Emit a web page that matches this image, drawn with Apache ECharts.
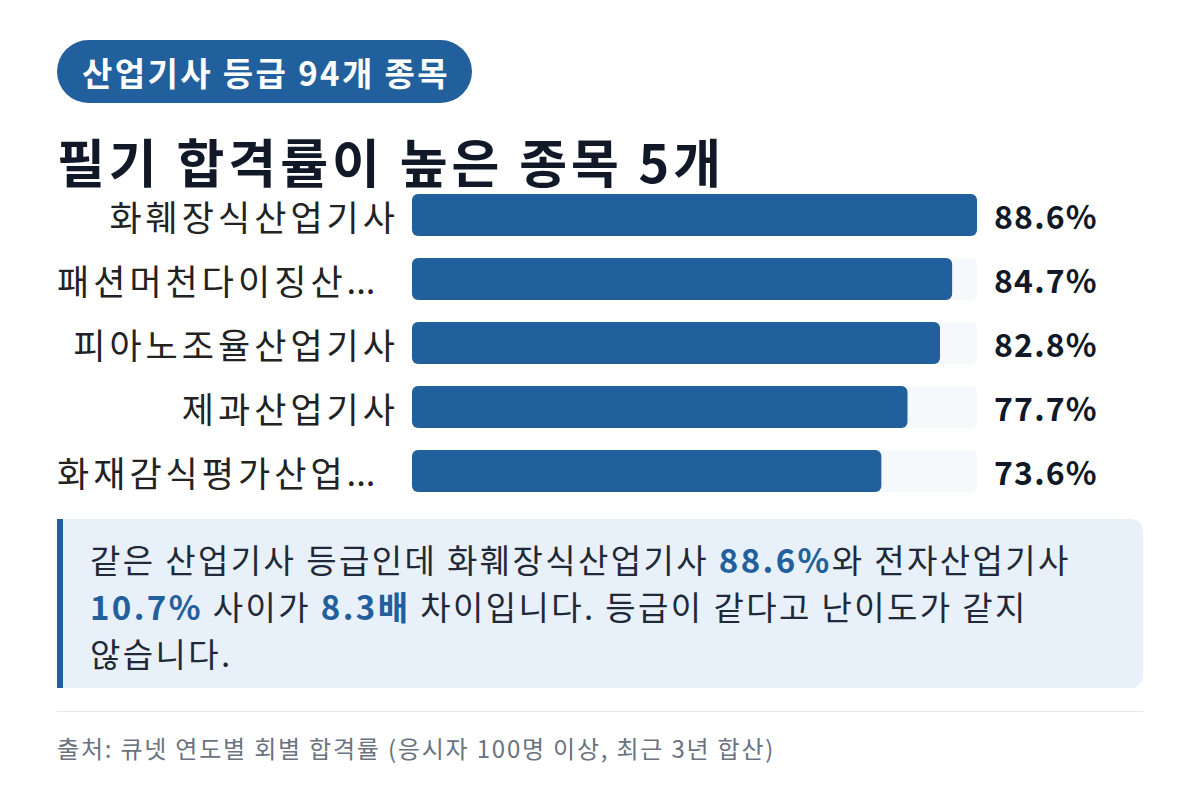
<!DOCTYPE html>
<html><head><meta charset="utf-8">
<script src="https://cdn.jsdelivr.net/npm/echarts@6/dist/echarts.min.js"></script>
<style>
html,body{margin:0;padding:0;background:#fff}
#c{width:1200px;height:800px}
#c text[style*="52px"]{letter-spacing:4px}
#c text[style*="35px"]{letter-spacing:4px}
#c text[style*="33px"]{letter-spacing:2.4px}
#c text[style*="32px"]{letter-spacing:1.2px}
#c text[style*="24px"]{letter-spacing:1.8px}
</style>
</head><body><div id="c"></div>
<script>
const categories = ['화훼장식산업기사', '패션머천다이징산업기사', '피아노조율산업기사', '제과산업기사', '화재감식평가산업기사'];
const values = [88.6, 84.7, 82.8, 77.7, 73.6];
const badgeText = '산업기사 등급 94개 종목';
const titleText = '필기 합격률이 높은 종목 5개';
const noteLines = [
  '같은 산업기사 등급인데 화훼장식산업기사 {b|88.6%}와 전자산업기사',
  '{b|10.7%} 사이가 {b|8.3배} 차이입니다. 등급이 같다고 난이도가 같지',
  '않습니다.'
];
const sourceText = '출처: 큐넷 연도별 회별 합격률 (응시자 100명 이상, 최근 3년 합산)';

const FONT = '"Noto Sans CJK KR", "Noto Sans", sans-serif';
const BLUE = '#215f9d';
const maxVal = Math.max.apply(null, values);

// letter spacing per font size (mirrors the CSS rules above) so ECharts lays text out with it
const SPACING = {52: 4, 35: 4, 33: 2.4, 32: 1.2, 24: 1.8};
const mctx = document.createElement('canvas').getContext('2d');
function measure(text, font) {
  mctx.font = font;
  const m = /(\d+(?:\.\d+)?)px/.exec(font || '');
  const ls = m ? (SPACING[+m[1]] || 0) : 0;
  return mctx.measureText(text).width + String(text).length * ls;
}
echarts.setPlatformAPI({measureText: (text, font) => ({width: measure(text, font)})});

const LABEL_W = 342, LABEL_FS = 35, DOT_FS = 34.5;
const LABEL_FONT = LABEL_FS + 'px ' + FONT;
const DOT_FONT = DOT_FS + 'px ' + FONT;
function fitLabel(s) {
  if (measure(s, LABEL_FONT) <= LABEL_W) return '{r|' + s + '}';
  let t = s;
  while (t.length > 1 && measure(t, LABEL_FONT) + measure('...', DOT_FONT) > LABEL_W) t = t.slice(0, -1);
  return '{l|' + t + '}{e|...}';
}

const chart = echarts.init(document.getElementById('c'), null, {renderer: 'svg'});
chart.setOption({
  animation: false,
  backgroundColor: '#ffffff',
  textStyle: {fontFamily: FONT},
  grid: {left: 412, right: 223, top: 183, bottom: 297, containLabel: false},
  xAxis: {type: 'value', min: 0, max: maxVal, show: false},
  yAxis: {
    type: 'category', data: categories, inverse: true,
    axisLine: {show: false}, axisTick: {show: false}, splitLine: {show: false},
    axisLabel: {
      margin: 13, width: LABEL_W, align: 'right',
      fontSize: LABEL_FS, color: '#222222', fontFamily: FONT,
      formatter: v => fitLabel(v),
      rich: {
        l: {align: 'left', fontSize: LABEL_FS, color: '#222222', fontFamily: FONT},
        e: {align: 'left', fontSize: DOT_FS, color: '#222222', fontFamily: FONT},
        r: {align: 'right', fontSize: LABEL_FS, color: '#222222', fontFamily: FONT}
      }
    }
  },
  series: [
    {
      type: 'bar', barWidth: 42, silent: true,
      data: values.map(() => maxVal),
      itemStyle: {color: '#f6f9fc', borderRadius: 6},
      label: {
        show: true, position: 'right', distance: 17,
        formatter: p => values[p.dataIndex].toFixed(1) + '%',
        fontSize: 32, fontWeight: 'bold', color: '#111827', fontFamily: FONT
      },
      z: 1
    },
    {
      type: 'bar', barWidth: 42, barGap: '-100%',
      data: values,
      itemStyle: {color: BLUE, borderRadius: 6},
      z: 2
    }
  ],
  graphic: [
    {type: 'rect', shape: {x: 57, y: 40, width: 415, height: 63, r: 31.5}, style: {fill: BLUE}},
    {type: 'text', x: 266, y: 72, style: {text: badgeText, fill: '#ffffff', font: 'bold 33px ' + FONT, textAlign: 'center', textVerticalAlign: 'middle'}},
    {type: 'text', x: 57, y: 160, style: {text: titleText, fill: '#111827', font: 'bold 52px ' + FONT, textAlign: 'left', textVerticalAlign: 'middle'}},
    {type: 'rect', shape: {x: 57, y: 519, width: 1086, height: 169, r: [0, 12, 12, 0]}, style: {fill: '#e8f0f9'}},
    {type: 'rect', shape: {x: 57, y: 519, width: 6, height: 169}, style: {fill: BLUE}},
    {type: 'text', x: 90, y: 535, style: {
      text: noteLines.join('\n'), fill: '#1f2937', fontSize: 33, fontFamily: FONT, lineHeight: 47,
      textAlign: 'left', textVerticalAlign: 'top',
      rich: {b: {fontWeight: 'bold', fill: BLUE, fontSize: 33, fontFamily: FONT, lineHeight: 47}}
    }},
    {type: 'line', shape: {x1: 57, y1: 711.5, x2: 1143, y2: 711.5}, style: {stroke: '#e5e7eb', lineWidth: 1}},
    {type: 'text', x: 57, y: 747, style: {text: sourceText, fill: '#6b7280', font: '24px ' + FONT, textAlign: 'left', textVerticalAlign: 'middle'}}
  ]
});
</script></body></html>
